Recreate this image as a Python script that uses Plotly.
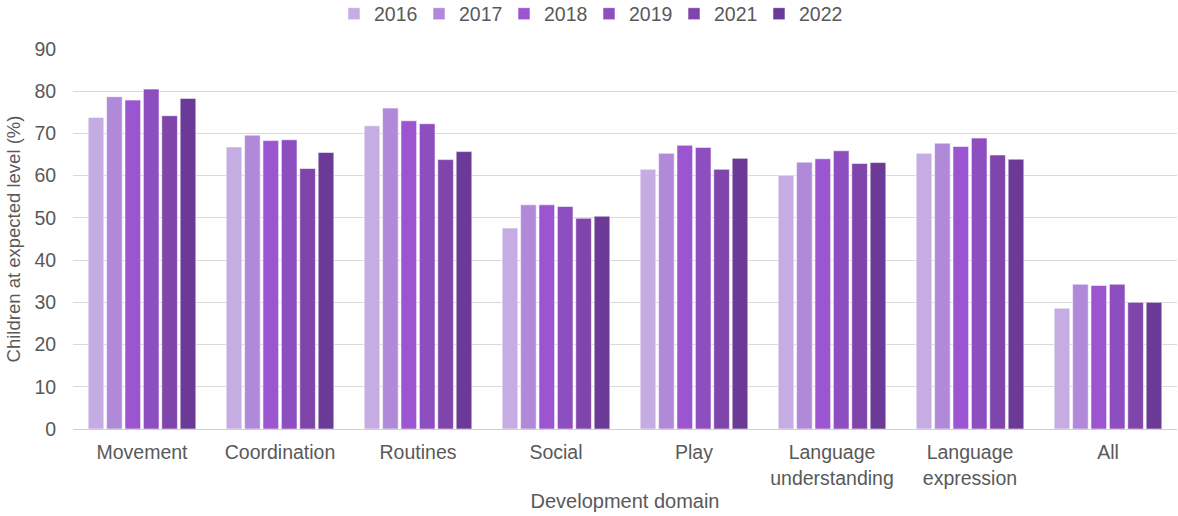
import plotly.graph_objects as go

# Development domains (x categories)
domains = [
    "Movement", "Coordination", "Routines", "Social", "Play",
    "Language<br>understanding", "Language<br>expression", "All",
]

# Share of children at the expected level (%), per survey year
years = ["2016", "2017", "2018", "2019", "2021", "2022"]
values_2016 = [73.8, 66.8, 71.8, 47.6, 61.5, 60.1, 65.3, 28.6]
values_2017 = [78.7, 69.6, 76.0, 53.1, 65.3, 63.2, 67.7, 34.3]
values_2018 = [77.9, 68.3, 73.0, 53.1, 67.2, 64.0, 66.9, 34.0]
values_2019 = [80.5, 68.5, 72.3, 52.7, 66.7, 65.9, 68.9, 34.3]
values_2021 = [74.2, 61.7, 63.8, 49.9, 61.5, 62.9, 64.9, 30.0]
values_2022 = [78.3, 65.5, 65.7, 50.4, 64.1, 63.1, 63.9, 30.0]

series = [values_2016, values_2017, values_2018, values_2019, values_2021, values_2022]
colors = ["#C5ADE3", "#B08AD9", "#9B55D0", "#8D4EC0", "#7F45AA", "#6B3A96"]

font_family = "Liberation Sans, Arial, sans-serif"
text_color = "#595959"
fs = 19.5

fig = go.Figure()
for year, vals, col in zip(years, series, colors):
    fig.add_trace(go.Bar(
        name=year,
        x=domains,
        y=vals,
        marker=dict(color=col, line=dict(color="rgba(255,255,255,0.55)", width=1)),
    ))

fig.update_layout(
    width=1178,
    height=516,
    barmode="group",
    bargap=0.2,
    bargroupgap=0.15,
    plot_bgcolor="white",
    paper_bgcolor="white",
    font=dict(family=font_family, size=fs, color=text_color),
    margin=dict(l=73, r=1, t=49, b=87),
    legend=dict(
        orientation="h",
        xref="container", yref="container",
        x=0.5, xanchor="center",
        y=1 - 14 / 516, yanchor="middle",
        font=dict(size=fs, color=text_color),
        itemwidth=30,
        entrywidth=40,
        tracegroupgap=0,
    ),
    xaxis=dict(
        showline=True,
        linecolor="#D0D0D0",
        linewidth=1,
        ticks="",
        ticklabelstandoff=6,
        tickfont=dict(size=fs, color=text_color),
        title=dict(text="Development domain", font=dict(size=20, color=text_color), standoff=6),
    ),
    yaxis=dict(
        range=[0, 90],
        dtick=10,
        showgrid=True,
        gridcolor="#D9D9D9",
        gridwidth=1,
        zeroline=False,
        ticks="outside",
        ticklen=12,
        tickcolor="rgba(0,0,0,0)",
        tickfont=dict(size=fs, color=text_color),
        title=dict(text="Children at expected level (%)", font=dict(size=18.5, color=text_color), standoff=8),
    ),
)

fig.write_html("out.html")
